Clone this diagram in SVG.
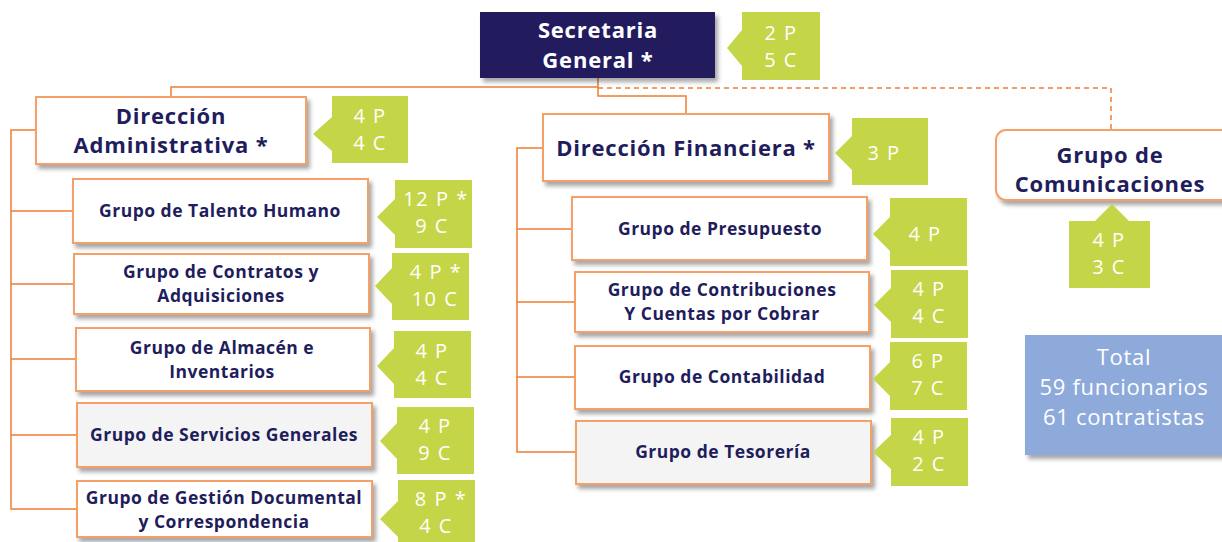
<svg xmlns="http://www.w3.org/2000/svg" width="1222" height="542" viewBox="0 0 1222 542">
<defs>
<filter id="sh" x="-10%" y="-10%" width="130%" height="140%">
<feDropShadow dx="3" dy="4" stdDeviation="2" flood-color="#000" flood-opacity="0.35"/>
</filter>
<style>
.box{fill:#fff;stroke:#f4a066;stroke-width:2;filter:url(#sh)}
.gray{fill:#f4f4f4}
.t{font-family:"Open Sans","Liberation Sans",sans-serif;font-weight:bold;fill:#1f1d5c;text-anchor:middle}
.big{font-size:22px;letter-spacing:0.8px}
.sm{font-size:17.5px;letter-spacing:0.5px}
.cl{fill:#c4d647}
.ct{font-family:"Open Sans","Liberation Sans",sans-serif;font-size:20px;fill:#fff;text-anchor:middle;letter-spacing:1.5px}
.tt{font-size:22px;letter-spacing:0.7px}
.ln{fill:none;stroke:#ed7d31;stroke-width:1.5}
</style>
</defs>
<g id="connectors">
<path class="ln" d="M598 78 V87 H171 V97"/>
<path class="ln" d="M598 87 V96 H686 V114"/>
<path class="ln" d="M598 88 H1111 V130" stroke-dasharray="5,4" stroke="#f4a066"/>
<path class="ln" d="M36 130 H11 V509 H77"/>
<path class="ln" d="M11 211 H73" stroke="#ffd966"/>
<path class="ln" d="M11 284 H74 M11 359 H76 M11 435 H77"/>
<path class="ln" d="M543 148 H517 V452 H576 M517 229 H572 M517 302 H575 M517 377 H575"/>
</g>
<g id="secretaria">
<rect x="480" y="12" width="235" height="66" fill="#201c5e" filter="url(#sh)"/>
<text x="598" y="38" class="t big" style="fill:#fff">Secretaria</text>
<text x="598" y="68" class="t big" style="fill:#fff">General *</text>
<polygon class="cl" points="742,12 820,12 820,80 742,80 742,66 727,48 742,30"/>
<text class="ct" x="781" y="40">2 P</text>
<text class="ct" x="781" y="67">5 C</text>
</g>
<g id="dir-admin">
<rect class="box" x="36" y="97" width="270" height="67"/>
<text class="t big" x="171" y="124">Dirección</text>
<text class="t big" x="171" y="153">Administrativa *</text>
<polygon class="cl" points="332,96 408,96 408,163 332,163 332,151 313,134 332,117"/>
<text class="ct" x="370" y="123">4 P</text>
<text class="ct" x="370" y="150">4 C</text>
</g>
<g id="talento">
<rect class="box" x="73" y="179" width="295" height="64"/>
<text class="t sm" x="220" y="217">Grupo de Talento Humano</text>
<polygon class="cl" points="395,180 472,180 472,248 395,248 395,235 377,217 395,199"/>
<text class="ct" x="436" y="206">12 P *</text>
<text class="ct" x="432" y="233">9 C</text>
</g>
<g id="contratos">
<rect class="box" x="74" y="254" width="295" height="60"/>
<text class="t sm" x="221" y="278">Grupo de Contratos y</text>
<text class="t sm" x="221" y="302">Adquisiciones</text>
<polygon class="cl" points="392,253 469,253 469,320 392,320 392,304 375,286 392,268"/>
<text class="ct" x="436" y="279">4 P *</text>
<text class="ct" x="435" y="306">10 C</text>
</g>
<g id="almacen">
<rect class="box" x="76" y="328" width="294" height="63"/>
<text class="t sm" x="222" y="354">Grupo de Almacén e</text>
<text class="t sm" x="222" y="378">Inventarios</text>
<polygon class="cl" points="394,331 471,331 471,398 394,398 394,384 377,366 394,348"/>
<text class="ct" x="432" y="358">4 P</text>
<text class="ct" x="432" y="385">4 C</text>
</g>
<g id="servicios">
<rect class="box gray" x="77" y="403" width="295" height="64"/>
<text class="t sm" x="224" y="441">Grupo de Servicios Generales</text>
<polygon class="cl" points="397,407 474,407 474,474 397,474 397,459 380,441 397,423"/>
<text class="ct" x="435" y="433">4 P</text>
<text class="ct" x="435" y="460">9 C</text>
</g>
<g id="gestion">
<rect class="box" x="77" y="481" width="295" height="56"/>
<text class="t sm" x="224" y="504">Grupo de Gestión Documental</text>
<text class="t sm" x="224" y="528">y Correspondencia</text>
<polygon class="cl" points="398,480 475,480 475,542 398,542 398,537 380,519 398,501"/>
<text class="ct" x="441" y="506">8 P *</text>
<text class="ct" x="436" y="533">4 C</text>
</g>
<g id="dir-financiera">
<rect class="box" x="543" y="114" width="286" height="67"/>
<text class="t big" x="686" y="156">Dirección Financiera *</text>
<polygon class="cl" points="852,118 928,118 928,185 852,185 852,170 835,153 852,136"/>
<text class="ct" x="884" y="160">3 P</text>
</g>
<g id="presupuesto">
<rect class="box" x="572" y="197" width="295" height="63"/>
<text class="t sm" x="720" y="235">Grupo de Presupuesto</text>
<polygon class="cl" points="890,198 967,198 967,266 890,266 890,251 873,234 890,217"/>
<text class="ct" x="925" y="241">4 P</text>
</g>
<g id="contribuciones">
<rect class="box" x="575" y="272" width="294" height="60"/>
<text class="t sm" x="722" y="296">Grupo de Contribuciones</text>
<text class="t sm" x="722" y="320">Y Cuentas por Cobrar</text>
<polygon class="cl" points="891,270 968,270 968,338 891,338 891,322 874,305 891,288"/>
<text class="ct" x="929" y="296">4 P</text>
<text class="ct" x="929" y="323">4 C</text>
</g>
<g id="contabilidad">
<rect class="box" x="575" y="346" width="295" height="63"/>
<text class="t sm" x="722" y="383">Grupo de Contabilidad</text>
<polygon class="cl" points="890,342 967,342 967,410 890,410 890,396 873,379 890,362"/>
<text class="ct" x="928" y="368">6 P</text>
<text class="ct" x="928" y="395">7 C</text>
</g>
<g id="tesoreria">
<rect class="box gray" x="576" y="421" width="295" height="63"/>
<text class="t sm" x="723" y="458">Grupo de Tesorería</text>
<polygon class="cl" points="891,418 968,418 968,486 891,486 891,469 873,452 891,435"/>
<text class="ct" x="929" y="444">4 P</text>
<text class="ct" x="929" y="471">2 C</text>
</g>
<g id="comunicaciones">
<rect class="box" x="996" y="130" width="236" height="70" rx="10"/>
<text class="t big" x="1110" y="163">Grupo de</text>
<text class="t big" x="1110" y="192">Comunicaciones</text>
<polygon class="cl" points="1069,221 1095,221 1112,204 1129,221 1150,221 1150,288 1069,288"/>
<text class="ct" x="1109" y="247">4 P</text>
<text class="ct" x="1109" y="274">3 C</text>
</g>
<g id="total">
<rect x="1025" y="335" width="200" height="120" fill="#8eaadb" filter="url(#sh)"/>
<text class="ct tt" x="1124" y="365">Total</text>
<text class="ct tt" x="1124" y="395">59 funcionarios</text>
<text class="ct tt" x="1124" y="425">61 contratistas</text>
</g>
</svg>
